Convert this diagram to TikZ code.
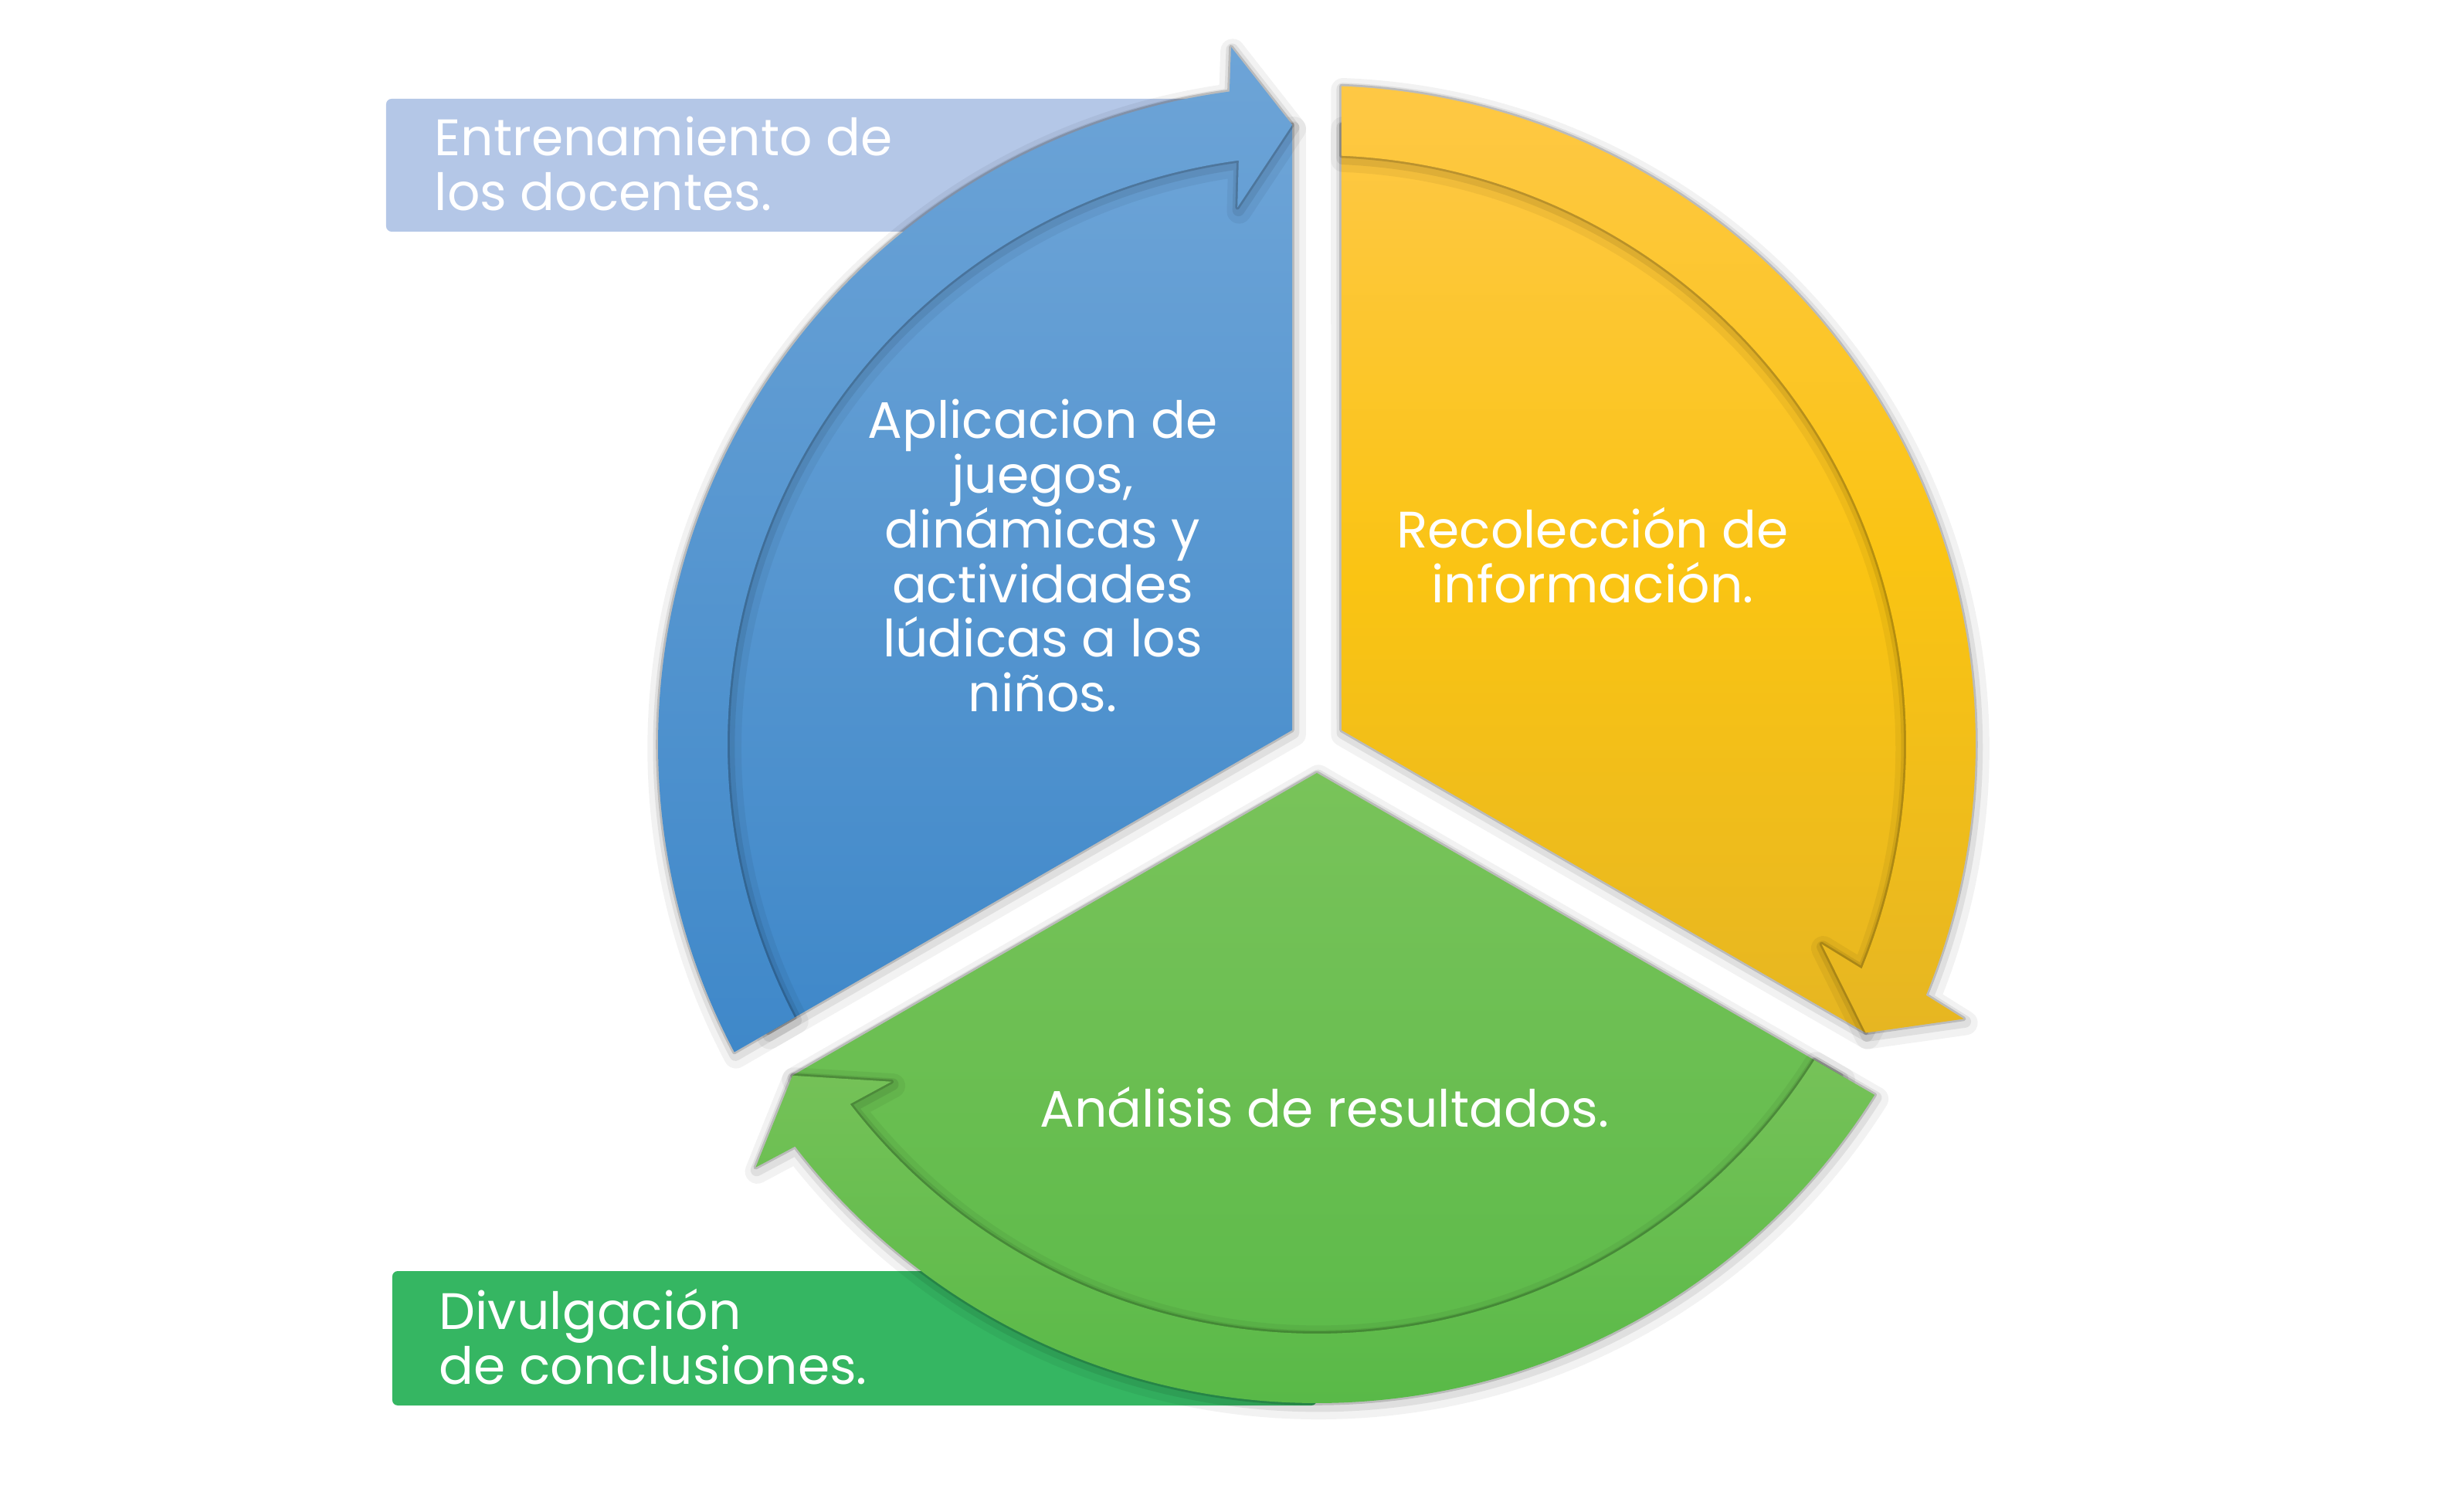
\documentclass[tikz,border=0pt]{standalone}
\usepackage{fontspec}
\setmainfont{Poppins}
\definecolor{boxblue}{HTML}{B4C7E7}
\definecolor{boxgreen}{HTML}{35B662}
\definecolor{bluetop}{HTML}{6DA4D7}
\definecolor{bluebot}{HTML}{3F88C9}
\definecolor{yellowtop}{HTML}{FEC845}
\definecolor{yellowmid}{HTML}{FAC413}
\definecolor{yellowbot}{HTML}{E6B622}
\definecolor{greentop}{HTML}{79C35A}
\definecolor{greenbot}{HTML}{58B947}

\begin{document}
\begin{tikzpicture}[softshadow/.style={preaction={draw=black,opacity=.05,line width=9pt,line join=round,transform canvas={xshift=.6pt,yshift=-1.5pt}},
  preaction={draw=black,opacity=.08,line width=4.5pt,line join=round,transform canvas={xshift=.4pt,yshift=-1pt}},
  preaction={draw=black,opacity=.16,line width=1.6pt,line join=round}},
  labeltext/.style={text=white,inner sep=0,font=\fontsize{18.9}{20.2}\selectfont}]
\useasboundingbox (-17.05,-9.94) rectangle (14.62,9.64);
% boxes behind the arrows
\fill[boxblue,rounded corners=2pt] (-12.05,6.64) rectangle (-0.85,8.36);
\fill[boxgreen,rounded corners=2pt] (-11.97,-8.56) rectangle (0,-6.82);
% yellow piece
\shade[softshadow,top color=yellowtop,bottom color=yellowbot,middle color=yellowmid] (30:0.3695) -- (87.72:8.03)
   arc[start angle=87.72,end angle=-27.72,radius=8.03] -- cycle;
\shade[softshadow,top color=yellowtop,bottom color=yellowbot,middle color=yellowmid] (87.85:8.53)
   arc[start angle=87.85,end angle=-22.38,radius=8.53] -- (-22.99:9.10) -- (-27.72:8.03) -- (-21.59:7.03)
   -- (-22.38:7.63) arc[start angle=-22.38,end angle=87.60,radius=7.63] -- cycle;
% green piece
\shade[softshadow,top color=greentop,bottom color=greenbot] (-90:0.3695) -- (-32.28:8.03)
   arc[start angle=-32.28,end angle=-147.72,radius=8.03] -- cycle;
\shade[softshadow,top color=greentop!90!greenbot,bottom color=greenbot] (-32.15:8.53)
   arc[start angle=-32.15,end angle=-142.38,radius=8.53] -- (-142.99:9.10) -- (-147.72:8.03) -- (-141.59:7.03)
   -- (-142.38:7.63) arc[start angle=-142.38,end angle=-32.40,radius=7.63] -- cycle;
% blue piece
\shade[softshadow,top color=bluetop,bottom color=bluebot] (150:0.3695) -- (207.72:8.03)
   arc[start angle=207.72,end angle=92.28,radius=8.03] -- cycle;
\shade[softshadow,top color=bluetop,bottom color=bluebot] (207.85:8.53)
   arc[start angle=207.85,end angle=97.62,radius=8.53] -- (97.01:9.10) -- (92.28:8.03) -- (98.41:7.03)
   -- (97.62:7.63) arc[start angle=97.62,end angle=207.60,radius=7.63] -- cycle;
% texts (base = last line)
\node[labeltext,anchor=base west,align=left] (entrenamiento) at (-11.43,6.91) {Entrenamiento de\\los docentes.};
\node[labeltext,anchor=base,align=center] (aplicacion) at (-3.55,0.42) {Aplicacion de\\juegos,\\dinámicas y\\actividades\\lúdicas a los\\niños.};
\node[labeltext,anchor=base,align=center] (recoleccion) at (3.57,1.83) {Recolección de\\información.};
\node[labeltext,anchor=base] (analisis) at (0.10,-4.95) {Análisis de resultados.};
\node[labeltext,anchor=base west,align=left] (divulgacion) at (-11.37,-8.28) {Divulgación\\de conclusiones.};
\end{tikzpicture}
\end{document}
